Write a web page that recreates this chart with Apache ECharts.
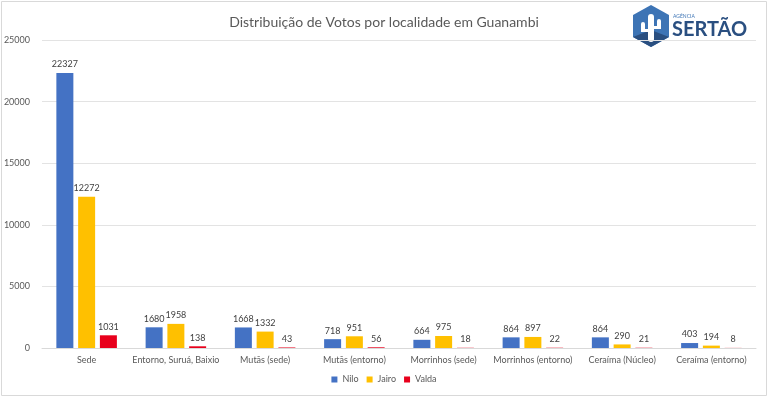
<!DOCTYPE html>
<html>
<head>
<meta charset="utf-8">
<script src="https://cdn.jsdelivr.net/npm/echarts@6/dist/echarts.min.js"></script>
<style>
  html, body { margin: 0; padding: 0; background: #fff; }
  #main { width: 768px; height: 397px; }
</style>
</head>
<body>
<div id="main"></div>
<script>
var chartDom = document.getElementById('main');
var myChart = echarts.init(chartDom);

// categories and series values
var localidades = ['Sede', 'Entorno, Suruá, Baixio', 'Mutãs (sede)', 'Mutãs (entorno)',
    'Morrinhos (sede)', 'Morrinhos (entorno)', 'Ceraíma (Núcleo)', 'Ceraíma (entorno)'];
var nilo = [22327, 1680, 1668, 718, 664, 864, 864, 403];
var jairo = [12272, 1958, 1332, 951, 975, 897, 290, 194];
var valda = [1031, 138, 43, 56, 18, 22, 21, 8];

var fontFam = 'Lato, "Open Sans", sans-serif';

function serie(name, data, color) {
    return {
        name: name, type: 'bar', data: data, barWidth: 17, barGap: '28%',
        itemStyle: { color: color },
        label: { show: true, position: 'top', color: '#404040', fontSize: 9, fontFamily: fontFam, distance: 4 }
    };
}

var option = {
    animation: false,
    title: {
        text: 'Distribuição de Votos por localidade em Guanambi',
        left: 'center', top: 10,
        textStyle: { fontSize: 14, fontWeight: 'normal', color: '#595959', fontFamily: fontFam }
    },
    legend: {
        bottom: 8, left: 'center', itemWidth: 6, itemHeight: 6, itemGap: 8,
        icon: 'rect',
        textStyle: { fontSize: 9, color: '#595959', fontFamily: fontFam }
    },
    grid: { left: 42, right: 12, top: 40, bottom: 49 },
    xAxis: {
        type: 'category', data: localidades,
        axisTick: { show: false },
        axisLine: { lineStyle: { color: '#d9d9d9' } },
        axisLabel: { color: '#595959', fontSize: 9, fontFamily: fontFam, margin: 8, interval: 0 }
    },
    yAxis: {
        type: 'value', min: 0, max: 25000, interval: 5000,
        axisLabel: { color: '#595959', fontSize: 9, fontFamily: fontFam, margin: 12,
            formatter: function (v) { return String(v); } },
        splitLine: { lineStyle: { color: '#e3e3e3' } }
    },
    series: [
        serie('Nilo', nilo, '#4472C4'),
        serie('Jairo', jairo, '#FFC000'),
        serie('Valda', valda, '#E8001C')
    ],
    graphic: [
        { type: 'rect', shape: { x: 1.5, y: 1.5, width: 765, height: 394 }, style: { fill: 'none', stroke: '#d9d9d9', lineWidth: 1 }, z: -1 },
        // logo
        { type: 'polygon', shape: { points: [[651, 5], [669, 15], [669, 37], [651, 47], [633, 37], [633, 15]] }, style: { fill: '#3d74b5' } },
        { type: 'polygon', shape: { points: [[651, 30], [669, 37], [651, 47], [633, 37]] }, style: { fill: '#2a4f80' } },
        { type: 'rect', shape: { x: 648, y: 14, width: 6, height: 28, r: 3 }, style: { fill: '#ffffff' } },
        { type: 'rect', shape: { x: 641, y: 22, width: 4, height: 10, r: 2 }, style: { fill: '#ffffff' } },
        { type: 'rect', shape: { x: 641, y: 29, width: 9, height: 3 }, style: { fill: '#ffffff' } },
        { type: 'rect', shape: { x: 657, y: 19, width: 4, height: 10, r: 2 }, style: { fill: '#ffffff' } },
        { type: 'rect', shape: { x: 652, y: 26, width: 9, height: 3 }, style: { fill: '#ffffff' } },
        { type: 'text', left: 673, top: 14, style: { text: 'AGÊNCIA', fontSize: 5, fill: '#3d74b5', fontFamily: fontFam } },
        { type: 'text', left: 672, top: 20, style: { text: 'SERTÃO', fontSize: 20, fontWeight: 'bold', fill: '#2a4f80', fontFamily: fontFam } }
    ]
};
option && myChart.setOption(option);
</script>
</body>
</html>
